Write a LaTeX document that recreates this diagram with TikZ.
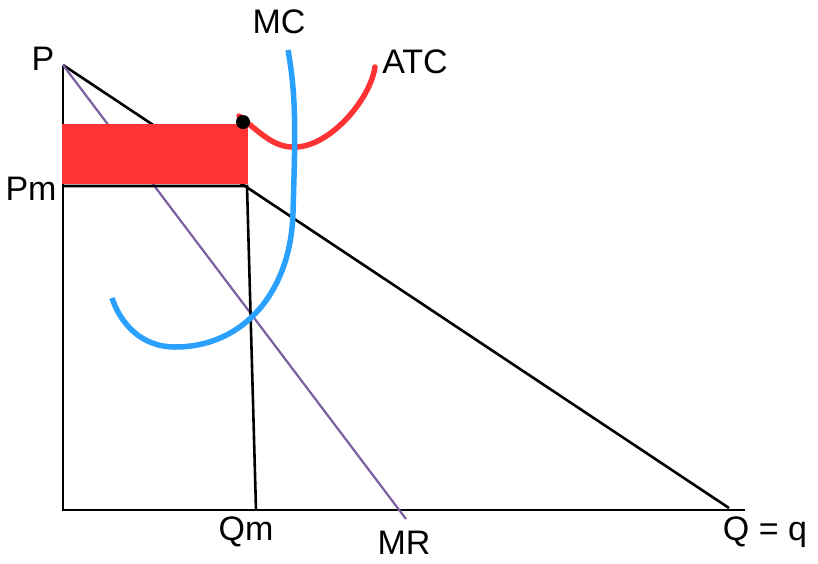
\documentclass[tikz,border=0pt]{standalone}
\usepackage{fontspec}
\setmainfont{Liberation Sans}
\usepackage{tikz}
\usetikzlibrary{positioning}
\definecolor{atcred}{HTML}{FF3333}
\definecolor{mcblue}{HTML}{2AA0FF}
\definecolor{mrpurple}{HTML}{7B5FA0}
\tikzset{
  axis/.style={black,line width=2.6pt},
  curvelbl/.style={font=\fontsize{34}{38}\selectfont,inner sep=0pt},
}

\begin{document}
\begin{tikzpicture}[x=1pt,y=-1pt]
      \useasboundingbox (0,0) rectangle (818,563);
      \coordinate (P) at (63,65);
      \coordinate (O) at (63,510);
      \coordinate (Pm) at (63,186);
      \coordinate (E) at (247,186);
      \coordinate (Qm) at (256,510);
      \coordinate (D) at (729,508);
      \coordinate (X) at (745,510);
      \coordinate (MRend) at (406,519);
      \draw[axis] (P) -- (O) -- (X);
      \draw[axis] (P) -- (D);
      \draw[mrpurple,line width=2.2pt] (P) -- (MRend);
      \draw[axis] (Pm) -- (E) -- (Qm);
      % profit area
      \fill[atcred] (62,124) rectangle (248,184);
      \draw[atcred,line width=5.5pt,line cap=round]
        (239,116) .. controls (262,134) and (274,148) .. (296,147)
        .. controls (330,146) and (370,100) .. (375,67);
      \draw[mcblue,line width=5.5pt]
        (288,50) .. controls (297,100) and (295,140) .. (293,213)
        .. controls (291,290) and (245,347) .. (175,347)
        .. controls (140,347) and (120,322) .. (112,298);
      \fill[black] (243,122) circle (7);
      \node[curvelbl] (Plbl) at (43,59) {P};
      \node[curvelbl] (Pmlbl) at (31,189) {Pm};
      \node[curvelbl] (MClbl) at (279,22) {MC};
      \node[curvelbl] (ATClbl) at (415,62) {ATC};
      \node[curvelbl] (Qmlbl) at (246,532) {Qm};
      \node[curvelbl] (MRlbl) at (404,543) {MR};
      \node[curvelbl] (Qlbl) at (765,532) {Q = q};
    \end{tikzpicture}
\end{document}
